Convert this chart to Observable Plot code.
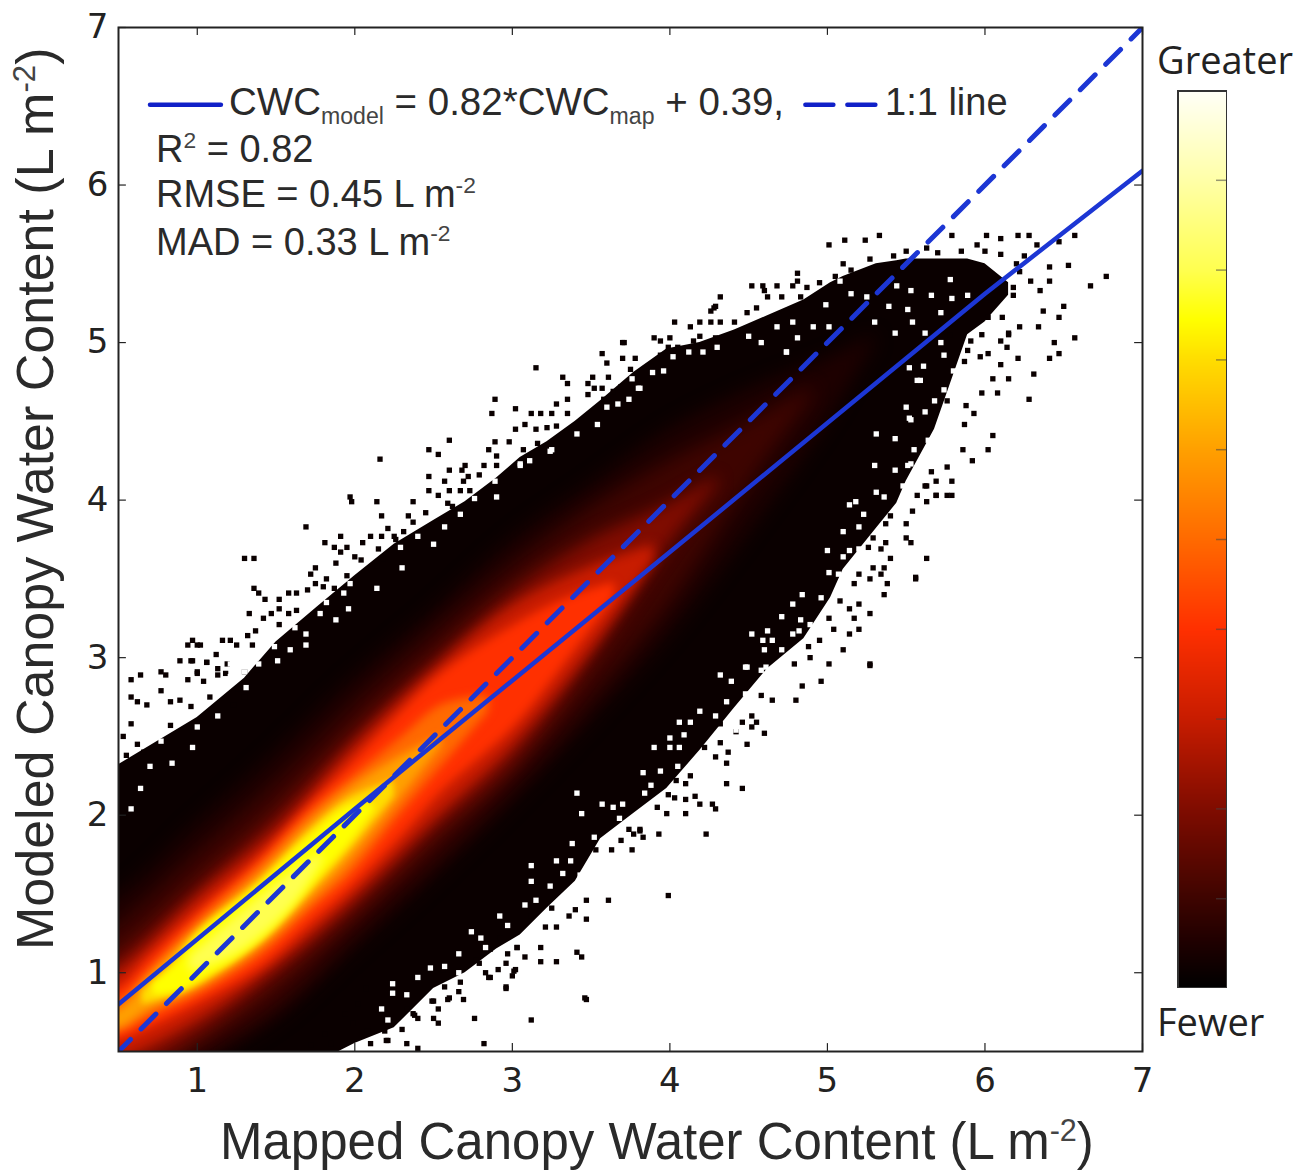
<!DOCTYPE html>
<html><head><meta charset="utf-8">
<script src="https://cdn.jsdelivr.net/npm/d3@7"></script>
<script src="https://cdn.jsdelivr.net/npm/@observablehq/plot@0.6"></script>
<style>
body{margin:0;background:#fff}
#wrap{position:relative;width:1310px;height:1170px;overflow:hidden}
#wrap svg{position:absolute;display:block}
.t{position:absolute;white-space:nowrap;color:#2a2a2a;font-family:"Liberation Sans";line-height:1}
.t sub,.t sup{font-size:60%;line-height:0;color:#444}
.cb{font-family:"Open Sans";font-size:38px;color:#222}
</style></head><body><div id="wrap"></div>
<script>
const tickValues=[1,2,3,4,5,6,7];
const colorStops=[0,.05,.1,.2,.3,.4,.5,.6,.7,.745,.8,.9,1];
const colorRange=["#000000","#1e0000","#3e0400","#800c00","#c81c00","#ff3000","#ff6a00","#ffa000","#ffdd00","#ffff00","#ffff50","#ffffa8","#fffff8"];
const barTicks=[.1,.2,.3,.4,.5,.6,.7,.8,.9];

// density contours: [x, lower y, upper y]
const envelope=[[.3,0,2.25],[.5,0,2.32],[1,.15,2.62],[1.3,.25,2.87],[1.5,.3,3.1],[1.76,.43,3.32],[2,.55,3.52],[2.25,.65,3.72],[2.5,.9,3.87],[2.7,1,3.99],[2.9,1.15,4.14],[3.05,1.24,4.27],[3.22,1.41,4.37],[3.4,1.58,4.5],[3.56,1.85,4.63],[3.77,2.01,4.81],[3.98,2.17,4.96],[4.19,2.41,5],[4.41,2.68,5.08],[4.62,2.93,5.17],[4.85,3.12,5.27],[5.02,3.38,5.38],[5.1,3.56,5.42],[5.31,3.82,5.5],[5.44,3.98,5.52],[5.5,4.12,5.53],[5.68,4.45,5.53],[5.89,5.05,5.53],[6,5.13,5.5],[6.15,5.3,5.38]];
const band05=[[.3,.1,1.45],[.5,.1,1.5],[1,.4,1.95],[1.5,.7,2.4],[2,1.15,2.88],[2.5,1.6,3.3],[3,2.08,3.75],[3.5,2.6,4.1],[4,3.15,4.45],[4.5,3.8,4.7],[5,4.5,4.9],[5.3,5,5.05]];
const band10=[[.3,.15,1.2],[.5,.15,1.3],[1,.48,1.75],[1.5,.8,2.2],[2,1.27,2.7],[2.5,1.72,3.15],[3,2.2,3.58],[3.5,2.75,3.95],[4,3.35,4.25],[4.5,4.1,4.5],[4.9,4.65,4.72]];
const band20=[[.3,.3,1],[.5,.33,1.1],[1,.6,1.55],[1.5,.97,2],[2,1.4,2.52],[2.5,1.88,2.98],[3,2.33,3.42],[3.5,2.98,3.75],[4,3.72,3.98],[4.3,4.1,4.15]];
const band30=[[.3,.42,.9],[.5,.45,1],[1,.7,1.47],[1.5,1.05,1.9],[2,1.48,2.44],[2.5,1.97,2.92],[3,2.44,3.33],[3.5,3.05,3.58],[3.9,3.62,3.72]];
const band40=[[.3,.55,.85],[.5,.57,.9],[.7,.65,1.1],[1,.8,1.38],[1.4,1.03,1.73],[1.72,1.31,2.07],[1.97,1.53,2.32],[2.3,1.87,2.66],[2.55,2.15,2.9],[3,2.55,3.2],[3.3,2.92,3.36],[3.65,3.38,3.48]];
const band50=[[.3,.62,.75],[.5,.62,.82],[.7,.72,1.02],[1,.86,1.33],[1.4,1.11,1.69],[1.72,1.4,2.02],[1.97,1.62,2.23],[2.3,2.02,2.5],[2.55,2.31,2.7],[2.85,2.66,2.76]];
const band60=[[.3,.65,.75],[.5,.65,.76],[.7,.77,.98],[1,.9,1.28],[1.4,1.16,1.63],[1.72,1.46,1.96],[1.97,1.71,2.17],[2.3,2.12,2.38],[2.55,2.44,2.5]];
const band70=[[.65,.8,.88],[.8,.84,1.02],[1,.92,1.26],[1.4,1.19,1.59],[1.72,1.51,1.91],[1.97,1.78,2.11],[2.25,2.12,2.22]];
const band745=[[.72,.86,.93],[.875,.88,1.06],[1,.94,1.23],[1.4,1.21,1.56],[1.72,1.55,1.87],[1.97,1.83,2.06],[2.12,2.03,2.07]];
const band80=[[.95,1,1.1],[1.25,1.12,1.36],[1.6,1.42,1.64],[1.8,1.72,1.76]];
const levels=[[.05,band05,9],[.1,band10,9],[.2,band20,8],[.3,band30,6],[.4,band40,5],[.5,band50,5],[.6,band60,4],[.7,band70,3],[.745,band745,3],[.8,band80,5]];

// scattered single bins around the solid cloud
const specksUpper=[[.58,2.86],[.64,2.89],[.77,2.91],[.8,2.89],[.89,2.98],[.96,2.98],[.94,3.08],[1,3.08],[1.06,2.97],[1.13,2.93],[1.19,2.96],[1.18,2.9],[1.3,2.91],[1.38,2.92],[1.4,2.96],[1.51,2.98],[1.55,3.07],[1.69,3.08],[.94,2.86],[1,2.9],[.58,2.75],[.62,2.72],[.68,2.7],[.77,2.79],[.83,2.72],[.89,2.73],[.96,2.69],[1.08,2.75],[1.23,2.7],[1.3,2.75],[1.26,2.8],[.83,2.57],[.58,2.58],[.53,2.5],[.62,2.45],[.66,2.4],[.55,2.38],
[1.98,3.99],[2.14,3.99],[2.17,3.9],[1.69,3.83],[2.21,3.82],[1.81,3.73],[1.91,3.77],[1.87,3.7],[1.95,3.7],[2.05,3.73],[2.1,3.77],[2.17,3.77],[2.26,3.75],[1.91,3.67],[2,3.64],[2.15,3.69],[1.88,3.6],[1.75,3.57],[1.72,3.53],[1.82,3.5],[1.95,3.52],[1.3,3.63],[1.36,3.63],[1.36,3.44],[1.39,3.41],[1.43,3.37],[1.52,3.37],[1.58,3.41],[1.63,3.41],[1.7,3.43],[1.75,3.47],[1.8,3.45],[1.87,3.44],[1.33,3.28],[1.47,3.28],[1.52,3.31],[1.42,3.25],[1.58,3.28],[1.63,3.3],[1.37,3.17],[1.32,3.14],[1.52,3.21],[1.16,3.11],[1.21,3.11],[1.02,3.08],[.97,3.11],[1.12,3.02],[1.35,3.08],[1.25,3.08],[1.06,2.97],[.97,2.98],[1,2.91],[1.13,2.89],[1.04,2.85],[2.04,3.62],[2.14,3.58],[2.18,3.63],[1.97,4.02],[2.16,4.26],[2.69,4.12],
[2.89,4.64],[2.87,4.55],[3.02,4.58],[3.12,4.55],[3.18,4.55],[3.25,4.55],[3.35,4.55],[3.28,4.61],[3.35,4.64],[3.32,4.78],[3.35,4.74],[3.48,4.74],[3.51,4.78],[3.48,4.67],[3.52,4.71],[3.02,4.45],[3.08,4.48],[3.15,4.45],[3.22,4.46],[3.28,4.47],[2.6,4.38],[2.47,4.32],[2.53,4.29],[2.89,4.37],[2.85,4.32],[2.9,4.28],[2.98,4.37],[2.7,4.22],[2.6,4.19],[2.47,4.15],[2.57,4.12],[2.47,4.06],[2.6,4.06],[2.53,4.03],[2.37,3.99],[2.34,3.9],[2.37,3.86],[2.82,4.22],[2.79,4.16],[2.68,4.19],[2.72,4.15],[2.67,4.06],[2.73,4.06],[2.59,3.98],[2.62,3.96],[2.45,3.92],[2.31,3.8],[2.25,3.77],[2.9,4.22],[3.16,4.36],[3.07,4.32],[3.15,4.84],
[4.81,5.44],[4.81,5.39],[4.78,5.36],[4.68,5.36],[4.59,5.36],[4.52,5.36],[4.32,5.29],[4.29,5.23],[4.26,5.2],[4.03,5.13],[4.19,5.13],[4.13,5.1],[4.26,5.13],[4.32,5.13],[3.9,5.03],[4,5.03],[3.7,5],[3.94,5.01],[3.99,4.97],[3.57,4.93],[3.7,4.9],[3.6,4.87],[3.78,4.9],[3.61,4.78],[3.57,4.71],[3.75,4.83],[3.69,4.72],[3.64,4.69],[3.58,4.64],[4.55,5.22],[4.62,5.29],[4.6,5.33],[4.71,5.29],[4.83,5.29],[4.49,5.19],[4.66,5.16],[4.41,5.13],[4.15,5.01],[4.19,5.04],[4.29,5.03],[4.05,4.97],[3.94,4.92],[3.88,4.85],[3.71,5],[4.28,5.22],
[5.01,5.62],[5.11,5.65],[5.24,5.65],[5.33,5.68],[5.79,5.68],[6.01,5.68],[6.1,5.66],[6.21,5.68],[6.28,5.68],[6.33,5.62],[5.1,5.5],[5.27,5.53],[5.42,5.55],[5.5,5.58],[5.63,5.6],[5.7,5.57],[5.85,5.58],[6,5.58],[6.1,5.56],[6.2,5.5],[6.25,5.55],[5.95,5.62],[6.22,5.45],[5.15,5.46],[5.05,5.42],[4.95,5.38],[4.87,5.35]];
const specksRight=[[6.47,5.64],[6.57,5.68],[6.53,5.49],[6.41,5.48],[6.77,5.42],[6.67,5.36],[6.5,5.23],[6.37,5.2],[6.47,5.16],[6.34,5.1],[6.57,5.03],[6.44,5],[6.47,4.93],[6.41,4.9],[6.31,4.8],[6.21,4.9],[6.15,4.77],[6.08,4.68],[5.98,4.68],[6.28,4.64],[6.05,4.77],[6.05,4.41],[5.92,4.25],[6.02,4.32],[5.86,4.32],[5.79,4.12],[5.69,4.03],[5.79,4.03],[5.62,4.09],[5.93,4.55],[5.87,4.48],[6.15,5.06],[6.22,5.1],[6.11,5.16],
[6.02,5.16],[5.98,5.05],[5.91,5.01],[5.87,4.88],[5.97,4.91],[6.02,4.93],[6.1,4.86],[6.14,4.97],[6.15,5.05],[6.06,5.27],[6.18,5.3],[6.35,5.33],[6.41,5.39],[6.29,5.39],[6.18,5.35],[6.1,5.01],[5.89,4.95],[5.78,5.05],[5.88,4.6],[5.76,4.63],[5.63,4.42]];
const specksLower=[[2.91,1.36],[3.1,1.68],[3.1,1.59],[3.07,1.42],[2.72,1.26],[2.78,1.24],[2.66,1.12],[2.84,1.18],[2.95,1.29],[3.03,1.16],[2.48,1.02],[2.56,1.02],[2.4,.97],[2.24,.94],[2.24,.87],[2.07,.9],[2.33,.87],[2.49,.82],[2.59,.83],[2.69,.83],[2.86,.97],[2.96,.91],[3.01,1.01],[2.02,.8],[1.94,.74],[2.16,.77],[2.33,.77],[2.53,.68],[2.38,.73],[2.76,.71],[2.3,.64],[1.81,.61],[1.72,.54],[1.85,.55],[1.99,.68],[2.1,.55],[2.2,.57],[2.33,.55],[2.82,.55],[2.4,.52],[2.2,.7],[2.08,.63],
[2.96,.9],[2.21,.57],[2.5,.71],[2.53,.77],[2.5,.82],[2.6,.84],[2.66,.88],[2.85,.97],[2.83,1],[2.79,1.06],[2.77,1.08],[2.91,1.02],[2.96,1.06],[3,.98],[3.02,1.02],[3.08,1.1],[3.03,1.16],[3.18,1.16],[3.18,1.07],[3.28,1.07],[3.41,1.13],[3.44,1.1],[3.47,.83],[3.21,1.29],[3.28,1.29],[3.12,1.36],[3.25,1.41],[3.36,1.36],[3.47,1.34],[3.4,1.4],[3.47,1.46],[2.19,.63],[2.37,.74],[2.4,.71],[2.67,.94],[2.57,.91],[2.92,1.22],[2.86,1.15],[2.97,1.12],[3.46,.84],[3.12,.7],
[4.23,1.88],[3.93,1.88],[3.76,1.78],[4.1,2.01],[4.1,2.1],[4.16,2.12],[4.19,2.07],[4.27,2.07],[4.29,2.04],[4.36,2.2],[4.46,2.17],[4.36,2.33],[4.29,2.37],[4.37,2.4],[4.49,2.45],[4.42,2.53],[4.6,2.52],[4.52,2.63],[4.55,2.59],[4.52,2.56],[4.46,2.59],[4.32,2.46],[4.22,2.43],[4.04,2.22],[4.1,2.2],[4.13,2.25],[3.99,2.13],[4.03,2.11],[3.92,2.05],[3.98,2.01],[3.81,1.91],[3.74,1.91],[3.77,1.88],[3.83,1.86],[3.69,1.84],[3.63,1.78],[3.53,1.78],[4.32,2.58],[4.58,2.76],[3.99,1.49],[3.61,1.46],[3.81,1.9],
[5.63,3.63],[5.56,3.5],[5.27,3.5],[5.17,3.47],[5.38,3.47],[5.36,3.4],[5.2,3.34],[5.27,3.28],[5.17,3.25],[5.2,3.18],[5.14,3.15],[5.04,3.18],[5.1,3.05],[5.01,2.96],[5.27,2.95],[4.88,3.07],[4.95,3.11],[5.14,3.31],[5.08,3.36],[5.01,3.25],[5.5,3.85],[5.53,3.73],[5.5,3.76],[5.4,3.9],[5.37,3.85],[5.63,4.09],[5.69,4.03],[5.63,3.99],[5.69,4.12],[5.66,4.18],[5.76,4.21],[5.76,4.03],[5.57,4.03],[5.54,3.93],[5.37,3.73],[5.4,3.63],[5.34,3.69],[5.36,3.57],[5.29,3.57],[5.34,3.53],[5.2,3.53],[5.26,3.7],[5.17,3.73],[5.29,3.76],[4.89,3],[4.79,2.96],[4.8,2.73],[4.65,2.73],[4.84,2.82],[4.96,2.85],[4.39,2.85],[4.32,2.89],[5.56,3.51],[5.27,2.96],[4.52,3.15],[4.7,3.05]];
const holes=[[.64,2.17],[.58,2.04],[.7,2.31],[.84,2.33],[.97,2.43],[.77,2.47],[1,2.56],[1.13,2.63],
[2.14,3.44],[1.93,3.41],[1.96,3.31],[1.88,3.24],[1.78,3.28],[1.69,3.15],[1.69,3.08],[1.62,3.19],[1.59,3.05],[1.51,2.98],[1.39,2.96],[1.3,2.91],[1.21,2.96],[1.31,2.81],[1.82,3.35],[1.97,3.47],[1.49,3.07],[1.21,2.88],
[2.3,3.57],[2.5,3.72],[2.29,3.7],[2.57,3.83],[2.67,3.91],[2.9,4.02],[2.76,4.01],[2.89,4.12],[3.05,4.22],[3.11,4.25],[3.25,4.32],[3.41,4.42],[3.54,4.48],[2.46,3.88],[2.4,3.77],[3.24,4.31],[3.05,4.23],
[4.81,5.03],[4.74,4.94],[4.58,5],[4.21,4.94],[4.02,4.91],[3.96,4.82],[3.89,4.81],[3.8,4.71],[3.74,4.64],[3.67,4.61],[3.6,4.59],[4.3,4.97],[4.12,4.94],[3.76,4.77],[4.5,5.04],[4.68,5.1],[4.78,5.13],[3.81,4.71],
[3.12,1.68],[3.12,1.58],[3.28,1.71],[3.37,1.71],[3.32,1.63],[3.24,1.55],[3.43,1.62],[3.15,1.46],[3.08,1.43],[2.92,1.36],[2.74,1.26],[2.8,1.22],[2.66,1.12],[2.48,1.03],[2.57,1.04],[2.4,.97],[2.24,.93],[2.24,.87],[2.33,.86],[2.66,1],[3.33,1.46],[2.97,1.3],[2.83,1.16],[2.21,.7],[2.17,.77],
[3.41,2.14],[3.44,2.01],[3.57,2.07],[3.7,2.07],[3.64,2.05],[3.68,1.98],[3.52,1.86],[3.38,1.82],[3.84,2.14],[3.83,2.27],[3.9,2.43],[4,2.43],[4.06,2.43],[4,2.49],[4.06,2.59],[4.13,2.59],[4.19,2.66],[4.32,2.89],[4.39,2.85],[4.29,2.63],[4.42,2.54],[4.05,2.31],[3.94,2.28],[3.88,2.19],[3.81,1.99],[4.48,2.77],[4.49,2.94],[4.58,2.92],[4.36,2.72],[4.09,2.51],
[5.3,4.22],[5.43,4.19],[5.51,4.22],[5.31,4.05],[5.18,3.99],[5.14,3.97],[5.23,3.91],[5.2,3.83],[5.1,3.8],[5,3.68],[5.2,3.69],[5.14,3.68],[5.1,3.64],[5.01,3.54],[5.07,3.53],[4.96,3.38],[4.84,3.4],[4.78,3.34],[4.71,3.26],[4.83,3.24],[4.89,3.21],[4.82,3.17],[4.78,3.15],[4.52,3.15],[4.62,3.17],[4.59,3.11],[4.65,3.11],[4.6,3.05],[4.71,3.05],[4.48,2.94],[4.61,2.94],[5.48,4.09],[5.36,4.02],
[5.31,4.42],[5.43,4.39],[5.5,4.59],[5.52,4.52],[5.57,4.76],[4.74,4.94],[4.99,5.24],[4.91,5.1],[5.01,5.1],[5.3,5.13],[5.43,5.06],[5.54,5.13],[5.62,5.06],[5.51,5.21],[5.79,5.28],[5.89,5.3],[5.78,5.4],[5.72,5.19],[5.66,5.3],[5.53,5.33],[5.39,5.23],[5.72,5],[5.74,4.92],[5.8,4.82],[5.61,4.85],[5.52,4.84],[5.64,4.38],[5.53,4.51],[5.62,4.56],[5.78,4.58],[5.68,4.63],[5.59,4.76],[5.74,4.7],[5.55,4.32],[5.53,4.23],[5.25,5.29],[5.15,5.31],[5.08,5.39],[4.98,5.46],[5.44,5.36]];

const fitLine=[[.5,.8],[2,2.04],[4,3.67],[6,5.31],[7,6.09]];
const oneToOne=[[.5,.5],[7,7]];
const legendSolid=[[.7,6.51],[1.15,6.51]];
const legendDash=[[4.86,6.51],[5.31,6.51]];
const blue="#1c36d4", ink="#0a0000";
const colorScale={type:"linear",domain:colorStops,range:colorRange,clamp:true};

const bandMarks=levels.map(([level,rows,blur])=>Plot.areaY(rows.map(r=>({x:r[0],lo:r[1],hi:r[2],level})),{
  x:"x",y1:"lo",y2:"hi",fill:"level",curve:"catmull-rom",clip:true,imageFilter:`blur(${blur}px)`}));
const speck=(d,fill)=>Plot.dot(d,{x:"0",y:"1",symbol:"square",r:3,fill,clip:true});
const edgeTick={stroke:"#222",strokeWidth:1.2};

const main=Plot.plot({
  width:1310,height:1170,marginLeft:118,marginRight:168,marginTop:27,marginBottom:119,
  style:{fontFamily:"DejaVu Sans",fontSize:"34px",background:"transparent",color:"#222"},
  x:{domain:[.5,7],label:null},y:{domain:[.5,7],label:null},color:colorScale,
  marks:[
    Plot.areaY(envelope.map(r=>({x:r[0],lo:r[1],hi:r[2]})),{x:"x",y1:"lo",y2:"hi",fill:ink,clip:true}),
    ...bandMarks,
    speck(specksUpper,ink),speck(specksRight,ink),speck(specksLower,ink),speck(holes,"#fff"),
    Plot.line(oneToOne,{x:"0",y:"1",stroke:blue,strokeWidth:5,strokeDasharray:"21,14.9",strokeDashoffset:4,clip:true}),
    Plot.line(fitLine,{x:"0",y:"1",stroke:blue,strokeWidth:4.5,clip:true}),
    Plot.line(legendSolid,{x:"0",y:"1",stroke:"#1020c8",strokeWidth:4.5}),
    Plot.line(legendDash,{x:"0",y:"1",stroke:"#1020c8",strokeWidth:4.5,strokeDasharray:"28,14"}),
    Plot.ruleX(tickValues,{y1:.5,y2:.55,...edgeTick}),
    Plot.ruleX(tickValues,{y1:6.95,y2:7,...edgeTick}),
    Plot.ruleY(tickValues,{x1:.5,x2:.55,...edgeTick}),
    Plot.ruleY(tickValues,{x1:6.95,x2:7,...edgeTick}),
    Plot.frame({stroke:"#222",strokeWidth:2}),
    Plot.axisX(tickValues,{anchor:"bottom",tickSize:0,tickPadding:16,label:null,tickFormat:d=>d}),
    Plot.axisY(tickValues,{anchor:"left",tickSize:0,tickPadding:10,label:null,tickFormat:d=>d})
  ]
});
main.style.left="0";main.style.top="0";
const bar=Plot.plot({
  width:50,height:898,margin:0,
  style:{background:"transparent"},
  x:{domain:[0,1],axis:null},y:{domain:[0,1],axis:null},color:colorScale,
  marks:[
    Plot.raster({fill:(x,y)=>y,x1:0,x2:1,y1:0,y2:1,pixelSize:1}),
    Plot.ruleY(barTicks,{x1:.78,x2:1,stroke:"#444",strokeOpacity:.55,strokeWidth:1.5}),
    Plot.frame({stroke:"#333",strokeWidth:3})
  ]
});
bar.style.left="1177px";bar.style.top="90px";
const wrap=document.getElementById("wrap");
wrap.append(main,bar);
const add=(html,css,cls="t")=>{const d=document.createElement("div");d.className=cls;d.innerHTML=html;d.style.cssText=css;wrap.append(d);return d};
add("Mapped Canopy Water Content (L m<sup>-2</sup>)","left:220px;top:1116px;font-size:51px");
add("Modeled Canopy Water Content (L m<sup>-2</sup>)","left:9px;top:950px;font-size:52px;transform-origin:0 0;transform:rotate(-90deg)");
add("CWC<sub>model</sub> = 0.82*CWC<sub>map</sub> + 0.39,","left:229px;top:83px;font-size:38.5px");
add("1:1 line","left:885px;top:83px;font-size:38px");
add("R<sup>2</sup> = 0.82","left:156px;top:130px;font-size:38px");
add("RMSE = 0.45 L m<sup>-2</sup>","left:156px;top:175px;font-size:38px");
add("MAD = 0.33 L m<sup>-2</sup>","left:156px;top:223px;font-size:38px");
add("Greater","left:1157px;top:40px","t cb");
add("Fewer","left:1157px;top:1002px","t cb");
</script></body></html>
